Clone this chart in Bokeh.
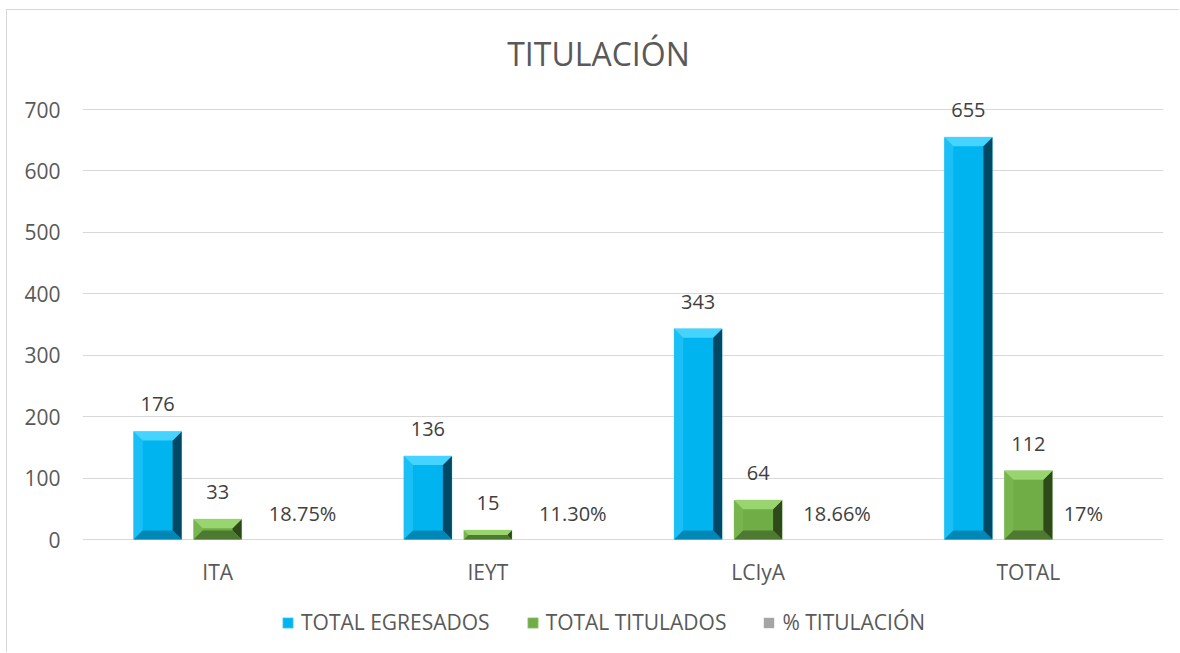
from bokeh.plotting import figure
from bokeh.models import Range1d, FixedTicker, Legend, LegendItem, ColumnDataSource
from bokeh.core.properties import value
from bokeh.embed import file_html
from bokeh.resources import INLINE

# ---------------- data ----------------
categories = ["ITA", "IEYT", "LCIyA", "TOTAL"]
total_egresados = [176, 136, 343, 655]
total_titulados = [33, 15, 64, 112]
pct_titulacion = [18.75, 11.30, 18.66, 17]
pct_labels = ["18.75%", "11.30%", "18.66%", "17%"]
y_ticks = [0, 100, 200, 300, 400, 500, 600, 700]
series_names = ["TOTAL EGRESADOS", "TOTAL TITULADOS", "% TITULACIÓN"]
chart_title = "TITULACIÓN"

# ---------------- layout / style ----------------
W, H = 1173, 643
FRAME_W = 1081
PX_X = FRAME_W / 4.0          # px per x unit
PX_Y = 430 / 700.0            # px per y unit
Y_TOP = (539 - 29) / PX_Y     # headroom above the 700 line (title lives there)
Y_BOT = -(653 - 539) / PX_Y   # room below 0 (category labels + legend)
BAR_W = 48 / PX_X
OFFS = [-60 / PX_X, 0.0, 60 / PX_X]
BEV = 9                       # bevel size in px
pct_label_dx = [25, 25, 19, -5]   # pixel nudges of the % labels
FONT = "Open Sans"
TXT = "#595959"
LBL = "#404040"
GRID = "#d9d9d9"

blue = dict(main="#00b4f0", top="#45d3ff", left="#1ac0f5", right="#004864", bottom="#0087b6", edge="#7fd6f5")
green = dict(main="#70ad47", top="#98d56e", left="#78b54f", right="#2e4a1b", bottom="#4d7930", edge="#a9d18e")

p = figure(width=W, height=H, x_range=Range1d(0, 4), y_range=Range1d(Y_BOT, Y_TOP),
           output_backend="svg", toolbar_location=None,
           min_border_left=75, min_border_right=17, min_border_top=19, min_border_bottom=0)
p.styles = {"border-top": "1px solid #d9d9d9", "border-left": "1px solid #d9d9d9",
            "margin-left": "6px", "margin-top": "9px"}
p.outline_line_color = None
p.background_fill_color = "white"
p.border_fill_color = "white"

# axes
p.xgrid.visible = False
p.xaxis.visible = False
p.ygrid.grid_line_color = GRID
p.ygrid.grid_line_width = 1
p.yaxis.ticker = FixedTicker(ticks=y_ticks)
p.yaxis.axis_line_color = None
p.yaxis.major_tick_line_color = None
p.yaxis.minor_tick_line_color = None
p.yaxis.major_tick_out = 0
p.yaxis.major_label_standoff = 22
p.yaxis.major_label_text_font = FONT
p.yaxis.major_label_text_font_size = "21px"
p.yaxis.major_label_text_color = TXT

centers = [i + 0.5 for i in range(len(categories))]
# category labels under the 0 line
p.text(x=centers, y=[0] * len(centers), text=categories, y_offset=32, text_align="center",
       text_baseline="middle", text_font=value(FONT), text_font_size="21px", text_color=TXT)


def bevel_bars(values, off, col):
    faces = {k: ([], []) for k in ("left", "right", "bottom", "top")}
    for c, v in zip(centers, values):
        L = c + off - BAR_W / 2
        R = c + off + BAR_W / 2
        by = min(BEV / PX_Y, v / 2.0)
        bx = by * PX_Y / PX_X
        faces["left"][0].append([L, L, L + bx, L + bx]); faces["left"][1].append([0, v, v - by, by])
        faces["right"][0].append([R, R, R - bx, R - bx]); faces["right"][1].append([0, v, v - by, by])
        faces["bottom"][0].append([L, R, R - bx, L + bx]); faces["bottom"][1].append([0, 0, by, by])
        faces["top"][0].append([L, R, R - bx, L + bx]); faces["top"][1].append([v, v, v - by, v - by])
    main = p.vbar(x=[c + off for c in centers], top=values, bottom=0, width=BAR_W,
                  fill_color=col["main"], line_color=col["edge"], line_width=0.6)
    for k, (xs, ys) in faces.items():
        p.patches(xs=xs, ys=ys, fill_color=col[k], line_color=None)
    return main


r_egr = bevel_bars(total_egresados, OFFS[0], blue)
r_tit = bevel_bars(total_titulados, OFFS[1], green)
r_pct = p.vbar(x=[c + OFFS[2] for c in centers], top=[v / 100.0 for v in pct_titulacion],
               bottom=0, width=BAR_W, fill_color="#a5a5a5", line_color=None)

# data labels
for vals, off in ((total_egresados, OFFS[0]), (total_titulados, OFFS[1])):
    src = ColumnDataSource(dict(x=[c + off for c in centers], y=vals, t=[str(v) for v in vals]))
    p.text(x="x", y="y", text="t", source=src, y_offset=-27, text_align="center",
           text_baseline="middle", text_font=value(FONT), text_font_size="20px", text_color=LBL)

src_p = ColumnDataSource(dict(x=[c + OFFS[2] for c in centers], y=[0] * 4, t=pct_labels, dx=pct_label_dx))
p.text(x="x", y="y", text="t", source=src_p, x_offset="dx", y_offset=-26, text_align="center",
       text_baseline="middle", text_font=value(FONT), text_font_size="20px", text_color=LBL)

# title (drawn in the headroom above the 700 line)
p.text(x=[(598 - 82) / PX_X], y=[(539 - 53) / PX_Y], text=[chart_title], text_align="center",
       text_baseline="middle", text_font=value(FONT), text_font_size="32px", text_color=TXT)

# legend
legend = Legend(items=[LegendItem(label=series_names[0], renderers=[r_egr]),
                       LegendItem(label=series_names[1], renderers=[r_tit]),
                       LegendItem(label=series_names[2], renderers=[r_pct])],
                orientation="horizontal", location=(199, 17))
legend.padding = 0
legend.margin = 0
legend.spacing = 36
legend.glyph_width = 13
legend.glyph_height = 13
legend.label_standoff = 7
legend.border_line_color = None
legend.background_fill_alpha = 0
legend.label_text_font = FONT
legend.label_text_font_size = "21px"
legend.label_text_color = TXT
p.add_layout(legend, "center")

open("out.html", "w").write(file_html(p, INLINE))
